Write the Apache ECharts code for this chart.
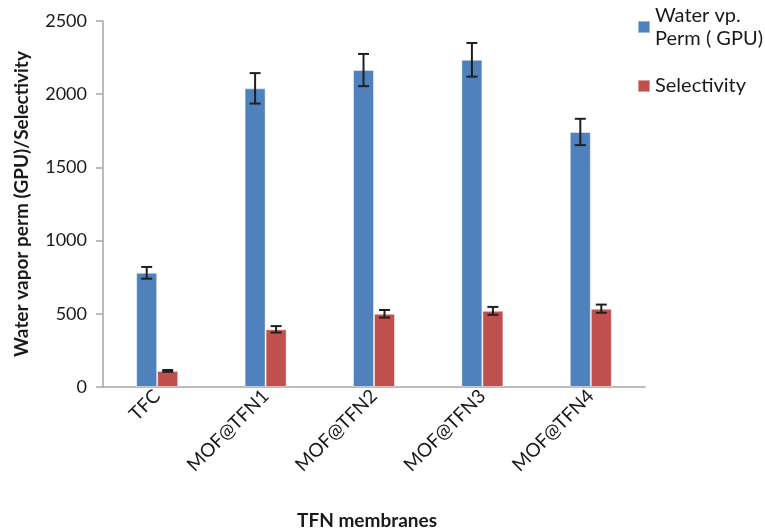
<!DOCTYPE html>
<html>
<head>
<meta charset="utf-8">
<script src="https://cdn.jsdelivr.net/npm/echarts@6/dist/echarts.min.js"></script>
<style>html,body{margin:0;padding:0;background:#fff;}#c{width:765px;height:529px;}</style>
</head>
<body>
<div id="c"></div>
<script>
var categories = ['TFC', 'MOF@TFN1', 'MOF@TFN2', 'MOF@TFN3', 'MOF@TFN4'];
var permValues = [780, 2040, 2165, 2235, 1742];
var permErrors = [40, 104, 110, 115, 90];
var selValues = [110, 394, 500, 520, 535];
var selErrors = [6, 22, 26, 27, 28];
var yTicks = { min: 0, max: 2500, interval: 500 };
var seriesNames = ['Water vp.\nPerm ( GPU)', 'Selectivity'];

var FONT = 'Lato';
var BAR_W = 21;

function errorSeries(values, errors, offset) {
  var data = values.map(function (v, i) { return [i, v - errors[i], v + errors[i]]; });
  return {
    type: 'custom',
    silent: true,
    z: 10,
    data: data,
    renderItem: function (params, api) {
      var lo = api.coord([api.value(0), api.value(1)]);
      var hi = api.coord([api.value(0), api.value(2)]);
      var x = lo[0] + offset;
      var cap = 5.5;
      var st = { stroke: '#1f1f1f', lineWidth: 2 };
      return {
        type: 'group',
        children: [
          { type: 'line', shape: { x1: x, y1: lo[1], x2: x, y2: hi[1] }, style: st },
          { type: 'line', shape: { x1: x - cap, y1: lo[1], x2: x + cap, y2: lo[1] }, style: st },
          { type: 'line', shape: { x1: x - cap, y1: hi[1], x2: x + cap, y2: hi[1] }, style: st }
        ]
      };
    }
  };
}

var chart = echarts.init(document.getElementById('c'), null, { renderer: 'canvas' });
chart.setOption({
  animation: false,
  backgroundColor: '#fff',
  grid: { left: 103, right: 120, top: 21, bottom: 142, containLabel: false, outerBoundsMode: 'none' },
  legend: {
    orient: 'vertical',
    left: 637,
    top: -7.5,
    padding: 0,
    itemWidth: 12,
    itemHeight: 12,
    itemGap: 13,
    icon: 'rect',
    textStyle: { fontFamily: FONT, fontSize: 20, color: '#1a1a1a', lineHeight: 23 },
    data: [
      { name: seriesNames[0], textStyle: { padding: [23, 0, 0, 0] } },
      { name: seriesNames[1] }
    ]
  },
  xAxis: {
    type: 'category',
    data: categories,
    axisLine: { show: true, lineStyle: { color: '#a6a6a6', width: 1.5 } },
    axisTick: { show: false },
    axisLabel: { rotate: 45, fontFamily: FONT, fontSize: 19, color: '#1a1a1a', margin: 6, interval: 0 },
    name: 'TFN membranes',
    nameLocation: 'middle',
    nameGap: 124,
    nameTextStyle: { fontFamily: FONT, fontSize: 19, fontWeight: 'bold', color: '#1a1a1a', padding: [0, 14, 0, 0] }
  },
  yAxis: {
    type: 'value',
    min: yTicks.min,
    max: yTicks.max,
    interval: yTicks.interval,
    splitLine: { show: false },
    axisLine: { show: true, lineStyle: { color: '#a6a6a6', width: 1.5 } },
    axisTick: { show: true, length: 7, lineStyle: { color: '#a6a6a6', width: 1.5 } },
    axisLabel: { fontFamily: FONT, fontSize: 18, color: '#1a1a1a', margin: 16, formatter: function (v) { return String(v); } },
    name: 'Water vapor perm (GPU)/Selectivity',
    nameLocation: 'middle',
    nameGap: 72,
    nameTextStyle: { fontFamily: FONT, fontSize: 19, fontWeight: 'bold', color: '#1a1a1a' }
  },
  series: [
    {
      name: seriesNames[0], type: 'bar', data: permValues, barWidth: BAR_W, barGap: '0%',
      itemStyle: { color: '#4F81BD', borderColor: 'rgba(255,255,255,0.45)', borderWidth: 1 }
    },
    {
      name: seriesNames[1], type: 'bar', data: selValues, barWidth: BAR_W, barGap: '0%',
      itemStyle: { color: '#C0504D', borderColor: 'rgba(255,255,255,0.45)', borderWidth: 1 }
    },
    errorSeries(permValues, permErrors, -BAR_W / 2),
    errorSeries(selValues, selErrors, BAR_W / 2)
  ]
});
</script>
</body>
</html>
